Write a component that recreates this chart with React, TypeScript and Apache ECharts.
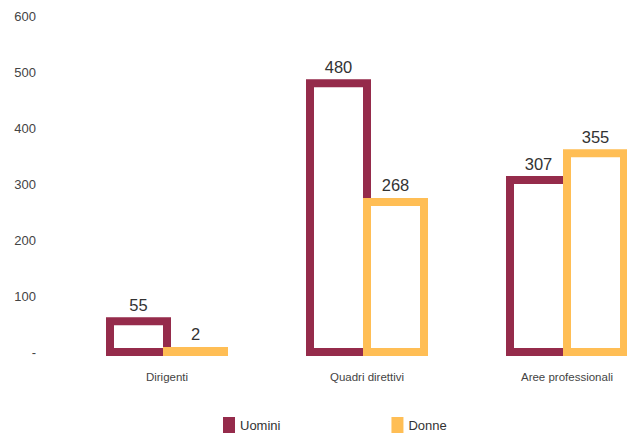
import React, { useEffect, useRef } from "react";
import * as echarts from "echarts";

const categories = ["Dirigenti", "Quadri direttivi", "Aree professionali"];
const uomini = [55, 480, 307];
const donne = [2, 268, 355];
const yTicks = [0, 100, 200, 300, 400, 500, 600];

const MAROON = "#952B4B";
const YELLOW = "#FFBE55";
const FONT = "'Liberation Sans', Arial, sans-serif";

const BAR_W = 57;
const BORDER = 8;

function makeRender(color: string, side: number) {
  return (params: any, api: any) => {
    const idx = api.value(0);
    const val = api.value(1);
    const top = api.coord([idx, val]);
    const base = api.coord([idx, 0]);
    const cx = top[0];
    const x = side < 0 ? cx - BAR_W : cx;
    const y = top[1];
    const h = base[1] - top[1];
    return {
      type: "group",
      children: [
        {
          type: "rect",
          shape: { x, y, width: BAR_W, height: h },
          style: { fill: "#ffffff", stroke: color, lineWidth: BORDER },
        },
        {
          type: "text",
          x: x + BAR_W / 2,
          y: y - 8,
          style: {
            text: String(val),
            fill: "#333333",
            font: `16.5px ${FONT}`,
            align: "center",
            verticalAlign: "bottom",
          },
        },
      ],
    };
  };
}

export default function App() {
  const ref = useRef<HTMLDivElement>(null);
  useEffect(() => {
    if (!ref.current) return;
    const chart = echarts.init(ref.current, undefined, { renderer: "svg" });
    chart.setOption({
      animation: false,
      backgroundColor: "#ffffff",
      grid: { left: 67, right: -40, top: 16, bottom: 84, outerBoundsMode: "none", containLabel: false },
      legend: {
        bottom: 3,
        left: 223,
        padding: 0,
        itemWidth: 12,
        itemHeight: 16,
        itemGap: 111,
        icon: "rect",
        textStyle: { fontFamily: FONT, fontSize: 13, color: "#333" },
        data: [
          { name: "Uomini", itemStyle: { color: MAROON } },
          { name: "Donne", itemStyle: { color: YELLOW } },
        ],
      },
      xAxis: {
        type: "category",
        data: categories,
        axisLine: { show: false },
        axisTick: { show: false },
        axisLabel: { fontFamily: FONT, fontSize: 11.5, color: "#444", margin: 19 },
      },
      yAxis: {
        type: "value",
        min: yTicks[0],
        max: yTicks[yTicks.length - 1],
        interval: 100,
        splitLine: { show: false },
        axisLine: { show: false },
        axisTick: { show: false },
        axisLabel: {
          fontFamily: FONT,
          fontSize: 13,
          color: "#444",
          margin: 31,
          formatter: (v: number) => (v === 0 ? "-" : String(v)),
        },
      },
      series: [
        {
          name: "Uomini",
          type: "custom",
          itemStyle: { color: MAROON },
          data: uomini.map((v, i) => [i, v]),
          encode: { x: 0, y: 1 },
          renderItem: makeRender(MAROON, -1),
        },
        {
          name: "Donne",
          type: "custom",
          itemStyle: { color: YELLOW },
          data: donne.map((v, i) => [i, v]),
          encode: { x: 0, y: 1 },
          renderItem: makeRender(YELLOW, 1),
        },
      ],
    });
    return () => chart.dispose();
  }, []);
  return (
    <div
      ref={ref}
      style={{ position: "fixed", left: 0, top: 0, width: 627, height: 436 }}
    />
  );
}
